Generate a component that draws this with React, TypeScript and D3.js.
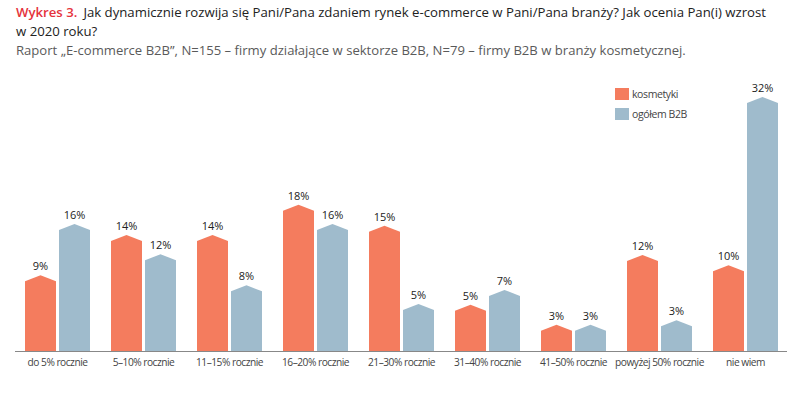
import React from "react";
import * as d3 from "d3";

const categories = [
  "do 5% rocznie",
  "5–10% rocznie",
  "11–15% rocznie",
  "16–20% rocznie",
  "21–30% rocznie",
  "31–40% rocznie",
  "41–50% rocznie",
  "powyżej 50% rocznie",
  "nie wiem",
];
const series = ["kosmetyki", "ogółem B2B"];
const kosmetyki = [9.0, 14.2, 14.2, 18.1, 15.4, 5.2, 2.6, 11.6, 10.3];
const ogolemB2B = [15.6, 11.7, 7.7, 15.6, 5.3, 7.1, 2.6, 3.2, 32.0];
const labelsK = ["9%", "14%", "14%", "18%", "15%", "5%", "3%", "12%", "10%"];
const labelsO = ["16%", "12%", "8%", "16%", "5%", "7%", "3%", "3%", "32%"];
const colors = ["#f47c5e", "#9fbbcc"];

const W = 798;
const H = 393;

export default function App() {
  const x0 = d3.scaleBand<string>().domain(categories).range([14.5, 788.5]).padding(0);
  const y = d3.scaleLinear().domain([0, 32]).range([351, 103]);
  const groupW = 65;
  const x1 = d3
    .scaleBand<string>()
    .domain(series)
    .range([0, groupW])
    .paddingInner(3 / 34)
    .paddingOuter(0);
  const bw = x1.bandwidth();
  const cap = 6;
  const data = [kosmetyki, ogolemB2B];
  const labels = [labelsK, labelsO];
  const font = "'Open Sans', 'Noto Sans', sans-serif";

  const shape = (x: number, v: number) => {
    const top = y(v);
    const base = y(0);
    return `M${x},${base}V${top}L${x + bw / 2},${top - cap}L${x + bw},${top}V${base}Z`;
  };

  return (
    <svg width={W} height={H} style={{ position: "absolute", left: 0, top: 0, background: "#fff" }}>
      <text x={16} y={17} fontFamily={font} fontSize={13.2} fill="#222">
        <tspan fill="#e5323c" fontWeight={600}>Wykres 3.</tspan>
        <tspan dx={6}>Jak dynamicznie rozwija się Pani/Pana zdaniem rynek e-commerce w Pani/Pana branży? Jak ocenia Pan(i) wzrost</tspan>
      </text>
      <text x={16} y={36} fontFamily={font} fontSize={13.2} fill="#222">w 2020 roku?</text>
      <text x={16} y={55} fontFamily={font} fontSize={13.1} fill="#5a5a5a">
        Raport „E-commerce B2B”, N=155 – firmy działające w sektorze B2B, N=79 – firmy B2B w branży kosmetycznej.
      </text>

      {series.map((s, i) => (
        <g key={s}>
          <rect x={615} y={88 + i * 20} width={14} height={12} fill={colors[i]} />
          <text x={632} y={98 + i * 20} fontFamily={font} fontSize={10.5} letterSpacing={-0.4} fill="#444">{s}</text>
        </g>
      ))}

      {categories.map((c, ci) => {
        const cx = (x0(c) as number) + x0.bandwidth() / 2;
        const gx = cx - groupW / 2;
        return (
          <g key={c}>
            {series.map((s, si) => {
              const bx = gx + (x1(s) as number);
              const v = data[si][ci];
              return (
                <g key={s}>
                  <path d={shape(bx, v)} fill={colors[si]} />
                  <text
                    x={bx + bw / 2}
                    y={y(v) - cap - 5}
                    textAnchor="middle"
                    fontFamily={font}
                    fontSize={11}
                    fill="#222"
                  >
                    {labels[si][ci]}
                  </text>
                </g>
              );
            })}
            <text x={cx} y={366} textAnchor="middle" fontFamily={font} fontSize={10.2} letterSpacing={-0.5} fill="#444">
              {c}
            </text>
          </g>
        );
      })}
      <line x1={15} x2={787} y1={351.5} y2={351.5} stroke="#888" strokeWidth={1} />
    </svg>
  );
}
